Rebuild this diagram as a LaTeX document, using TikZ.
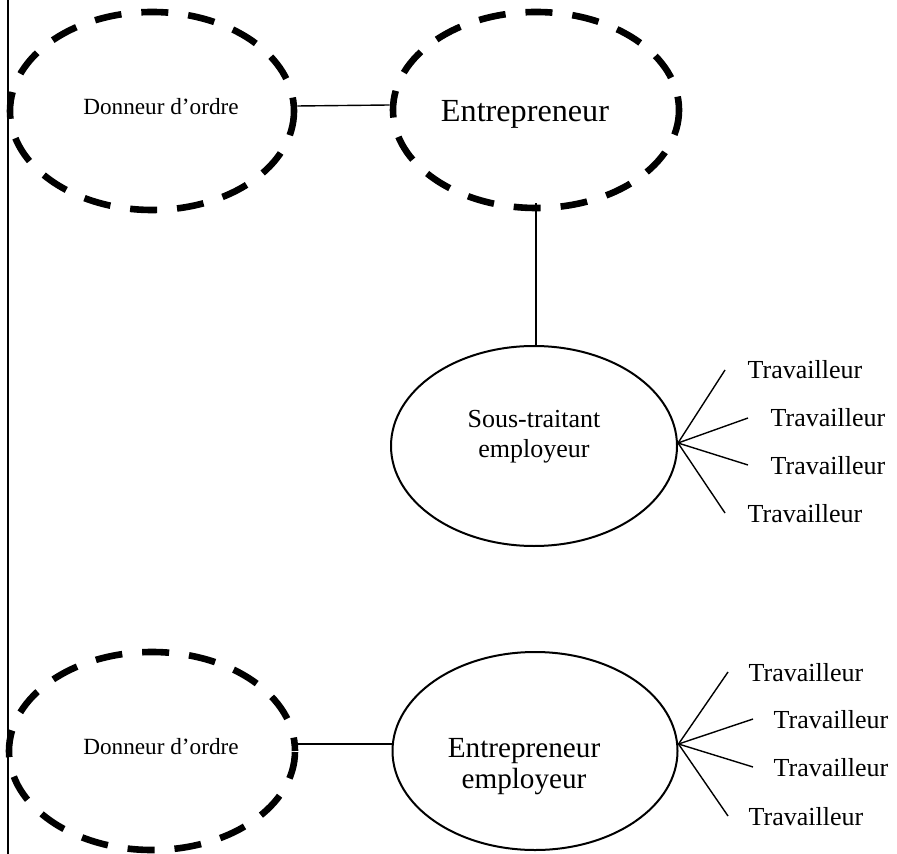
\documentclass[tikz,border=0pt]{standalone}
\usepackage{fontspec}
\setmainfont{Liberation Serif}
\usetikzlibrary{shapes.geometric}

\begin{document}
\begin{tikzpicture}[x=0.5pt,y=-0.5pt]
		\tikzstyle{every path}=[line width=0.7pt]
		\tikzstyle{PartySty}=[ellipse,draw,inner sep=0pt,line width=3.3pt,
								dash pattern=on 13.5pt off 10pt,dash phase=6.75pt]
		\tikzstyle{EmplSty}=[ellipse,draw,inner sep=0pt,line width=1pt]
		\tikzstyle{lbl}=[inner sep=0pt,align=center]
		\tikzstyle{worker}=[inner sep=0pt,anchor=base west,
								font=\fontsize{13}{15}\selectfont]

\useasboundingbox (0,0) rectangle (897,854);

% page rule on the left
\draw[line width=1pt] (8,0) -- (8,854);

\node[PartySty,minimum width=142pt,minimum height=99pt] at (152,111) (donneurA) {};
\node[PartySty,minimum width=143pt,minimum height=98pt] at (536,110) (entrepA) {};
\node[EmplSty,minimum width=143pt,minimum height=100pt] at (534,446) (soustrait) {};
\node[PartySty,minimum width=143pt,minimum height=99pt] at (152,751) (donneurB) {};
\node[EmplSty,minimum width=142.5pt,minimum height=99pt] at (535,751) (entrepB) {};

\node[lbl,font=\fontsize{11.6}{14}\selectfont,xshift=4.5pt,yshift=2pt] at (donneurA) (donneurAtxt) {Donneur d’ordre};
\node[lbl,font=\fontsize{16.1}{18}\selectfont,xshift=-5.5pt,yshift=-2pt] at (entrepA) (entrepAtxt) {Entrepreneur};
\node[lbl,font=\fontsize{13}{15}\selectfont,yshift=4.5pt] at (soustrait) (soustraitxt) {Sous-traitant\\employeur};
\node[lbl,font=\fontsize{11.6}{14}\selectfont,xshift=4.5pt,yshift=2pt] at (donneurB) (donneurBtxt) {Donneur d’ordre};
\node[lbl,font=\fontsize{14.6}{15.5}\selectfont,xshift=-5.5pt,yshift=-8pt] at (entrepB) (entrepBtxt) {Entrepreneur\\employeur};

\node[worker] at (747,379) (wA1) {Travailleur};
\node[worker] at (770,427) (wA2) {Travailleur};
\node[worker] at (770,474) (wA3) {Travailleur};
\node[worker] at (747,522) (wA4) {Travailleur};
\node[worker] at (748,681) (wB1) {Travailleur};
\node[worker] at (773,728) (wB2) {Travailleur};
\node[worker] at (773,776) (wB3) {Travailleur};
\node[worker] at (748,825) (wB4) {Travailleur};

\draw ([yshift=2.5pt]donneurA.east) -- ([yshift=2.5pt]entrepA.west);
\draw ([yshift=4pt]entrepA.south) -- (entrepA.south |- soustrait.north);
\draw ([yshift=3.5pt]donneurB.east) -- ([yshift=3.5pt]entrepB.west);

\foreach \i in {1,...,4}
{
  \draw ([yshift=1.5pt]soustrait.east) -- ([xshift=-11pt,yshift=4.5pt]wA\i.base west);
  \draw ([yshift=3.5pt]entrepB.east) -- ([xshift=-10pt,yshift=4.5pt]wB\i.base west);
}

\end{tikzpicture}
\end{document}
